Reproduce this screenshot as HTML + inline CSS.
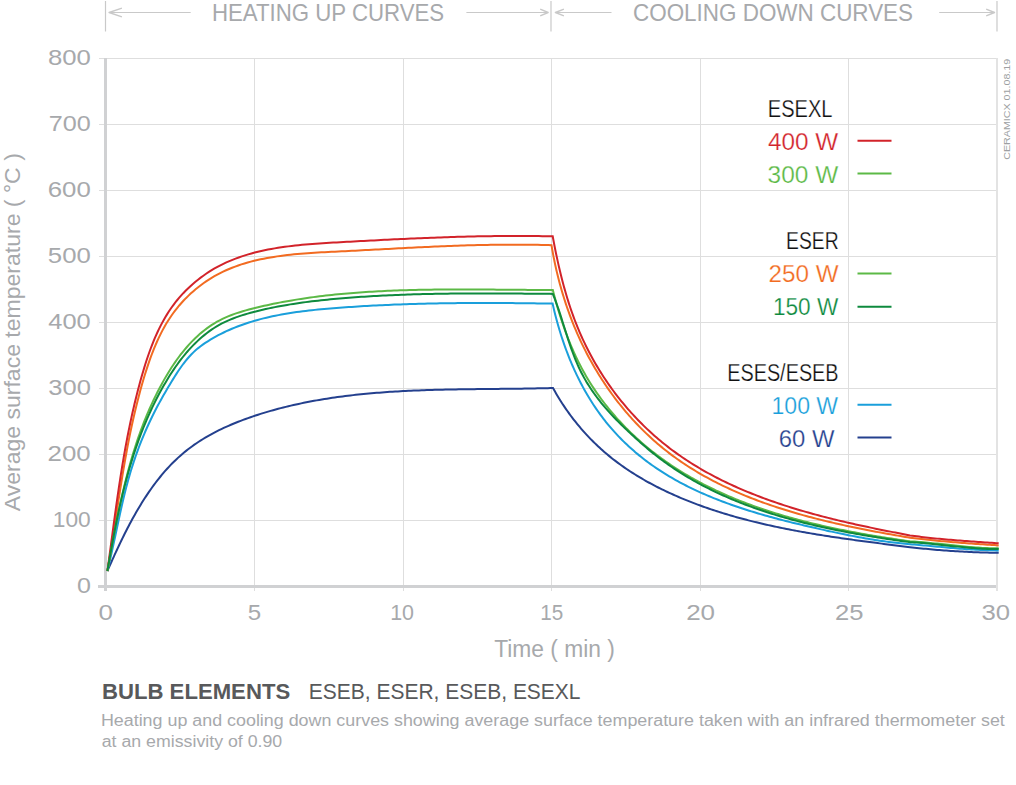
<!DOCTYPE html>
<html><head><meta charset="utf-8"><style>
html,body{margin:0;padding:0;background:#fff;width:1016px;height:785px;overflow:hidden;position:relative;font-family:"Liberation Sans",sans-serif;}
</style></head><body>
<svg width="1016" height="785" viewBox="0 0 1016 785" style="position:absolute;left:0;top:0">
<line x1="99" y1="520.5" x2="997" y2="520.5" stroke="#dedede" stroke-width="1"/>
<line x1="99" y1="454.5" x2="997" y2="454.5" stroke="#dedede" stroke-width="1"/>
<line x1="99" y1="388.5" x2="997" y2="388.5" stroke="#dedede" stroke-width="1"/>
<line x1="99" y1="322.5" x2="997" y2="322.5" stroke="#dedede" stroke-width="1"/>
<line x1="99" y1="256.5" x2="997" y2="256.5" stroke="#dedede" stroke-width="1"/>
<line x1="99" y1="190.5" x2="997" y2="190.5" stroke="#dedede" stroke-width="1"/>
<line x1="99" y1="124.5" x2="997" y2="124.5" stroke="#dedede" stroke-width="1"/>
<line x1="99" y1="58.5" x2="997" y2="58.5" stroke="#dedede" stroke-width="1"/>
<line x1="254.5" y1="58" x2="254.5" y2="591" stroke="#dedede" stroke-width="1"/>
<line x1="403.5" y1="58" x2="403.5" y2="591" stroke="#dedede" stroke-width="1"/>
<line x1="551.5" y1="58" x2="551.5" y2="591" stroke="#dedede" stroke-width="1"/>
<line x1="700.5" y1="58" x2="700.5" y2="591" stroke="#dedede" stroke-width="1"/>
<line x1="848.5" y1="58" x2="848.5" y2="591" stroke="#dedede" stroke-width="1"/>
<line x1="997" y1="58" x2="997" y2="591" stroke="#e3e3e3" stroke-width="2"/>
<line x1="98" y1="586.5" x2="996" y2="586.5" stroke="#d0d1d3" stroke-width="3"/>
<line x1="105.5" y1="58" x2="105.5" y2="591" stroke="#d0d1d3" stroke-width="3"/>
<line x1="105.5" y1="1" x2="105.5" y2="31.5" stroke="#c9c9c9" stroke-width="1.2"/>
<line x1="551.0" y1="1" x2="551.0" y2="31.5" stroke="#c9c9c9" stroke-width="1.2"/>
<line x1="997.0" y1="1" x2="997.0" y2="31.5" stroke="#c9c9c9" stroke-width="1.2"/>
<line x1="109.1" y1="12.5" x2="190.7" y2="12.5" stroke="#c9c9c9" stroke-width="1"/><polyline points="121.9,8.2 109.1,12.5 121.9,16.8" fill="none" stroke="#c9c9c9" stroke-width="1.4" stroke-linejoin="round"/>
<line x1="466.4" y1="12.5" x2="548.1" y2="12.5" stroke="#c9c9c9" stroke-width="1"/><polyline points="540.2,9.2 548.1,12.5 540.2,15.8" fill="none" stroke="#c9c9c9" stroke-width="1.4" stroke-linejoin="round"/>
<line x1="555.4" y1="12.5" x2="611.5" y2="12.5" stroke="#c9c9c9" stroke-width="1"/><polyline points="563.9,9.2 555.4,12.5 563.9,15.8" fill="none" stroke="#c9c9c9" stroke-width="1.4" stroke-linejoin="round"/>
<line x1="939.2" y1="12.5" x2="994.5" y2="12.5" stroke="#c9c9c9" stroke-width="1"/><polyline points="986.2,9.2 994.5,12.5 986.2,15.8" fill="none" stroke="#c9c9c9" stroke-width="1.4" stroke-linejoin="round"/>
<text x="0" y="0" font-family="Liberation Sans" font-size="21.6" fill="#a7a9ac" text-anchor="middle" textLength="358" lengthAdjust="spacingAndGlyphs" transform="translate(20.3,332.2) rotate(-90)">Average surface temperature ( °C )</text>
<text x="0" y="0" font-family="Liberation Sans" font-size="9.6" fill="#9d9fa2" text-anchor="middle" textLength="101" lengthAdjust="spacingAndGlyphs" transform="translate(1010.4,109.3) rotate(-90)">CERAMICX 01.08.19</text>
<line x1="857.5" y1="140.7" x2="891.5" y2="140.7" stroke="#d2232a" stroke-width="2"/>
<line x1="857.5" y1="173.4" x2="891.5" y2="173.4" stroke="#5cb946" stroke-width="2"/>
<line x1="857.5" y1="273.5" x2="891.5" y2="273.5" stroke="#5cb946" stroke-width="2"/>
<line x1="857.5" y1="306.7" x2="891.5" y2="306.7" stroke="#0e8a3e" stroke-width="2"/>
<line x1="857.5" y1="404.7" x2="891.5" y2="404.7" stroke="#1a9fdb" stroke-width="2"/>
<line x1="857.5" y1="437.5" x2="891.5" y2="437.5" stroke="#24408e" stroke-width="2"/>
<text x="211.88" y="20.80" font-family="Liberation Sans" font-size="23.20" fill="#a7a9ac" textLength="232.32" lengthAdjust="spacingAndGlyphs">HEATING UP CURVES</text>
<text x="633.02" y="20.80" font-family="Liberation Sans" font-size="23.20" fill="#a7a9ac" textLength="280.02" lengthAdjust="spacingAndGlyphs">COOLING DOWN CURVES</text>
<text x="494.18" y="657.10" font-family="Liberation Sans" font-size="23.00" fill="#a7a9ac" textLength="120.71" lengthAdjust="spacingAndGlyphs">Time ( min )</text>
<text x="767.86" y="117.10" font-family="Liberation Sans" font-size="24.40" fill="#111111" textLength="64.60" lengthAdjust="spacingAndGlyphs" stroke="#fff" stroke-width="0.25">ESEXL</text>
<text x="768.03" y="150.00" font-family="Liberation Sans" font-size="23.90" fill="#d2232a" textLength="70.30" lengthAdjust="spacingAndGlyphs" stroke="#fff" stroke-width="0.25">400 W</text>
<text x="767.64" y="183.00" font-family="Liberation Sans" font-size="23.90" fill="#5cb946" textLength="70.66" lengthAdjust="spacingAndGlyphs" stroke="#fff" stroke-width="0.25">300 W</text>
<text x="786.08" y="249.10" font-family="Liberation Sans" font-size="24.40" fill="#111111" textLength="52.56" lengthAdjust="spacingAndGlyphs" stroke="#fff" stroke-width="0.25">ESER</text>
<text x="768.48" y="282.00" font-family="Liberation Sans" font-size="23.90" fill="#f26b21" textLength="70.13" lengthAdjust="spacingAndGlyphs" stroke="#fff" stroke-width="0.25">250 W</text>
<text x="772.96" y="315.00" font-family="Liberation Sans" font-size="23.90" fill="#0e8a3e" textLength="65.32" lengthAdjust="spacingAndGlyphs" stroke="#fff" stroke-width="0.25">150 W</text>
<text x="727.17" y="381.10" font-family="Liberation Sans" font-size="24.40" fill="#111111" textLength="111.45" lengthAdjust="spacingAndGlyphs" stroke="#fff" stroke-width="0.25">ESES/ESEB</text>
<text x="771.51" y="414.00" font-family="Liberation Sans" font-size="23.90" fill="#1a9fdb" textLength="66.62" lengthAdjust="spacingAndGlyphs" stroke="#fff" stroke-width="0.25">100 W</text>
<text x="778.71" y="447.00" font-family="Liberation Sans" font-size="23.90" fill="#24408e" textLength="55.71" lengthAdjust="spacingAndGlyphs" stroke="#fff" stroke-width="0.25">60 W</text>
<text x="101.98" y="698.60" font-family="Liberation Sans" font-size="22.60" fill="#58595b" textLength="188.20" lengthAdjust="spacingAndGlyphs" font-weight="bold">BULB ELEMENTS</text>
<text x="308.77" y="698.60" font-family="Liberation Sans" font-size="22.60" fill="#58595b" textLength="271.77" lengthAdjust="spacingAndGlyphs">ESEB, ESER, ESEB, ESEXL</text>
<text x="100.92" y="726.30" font-family="Liberation Sans" font-size="17.30" fill="#a7a9ac" textLength="903.94" lengthAdjust="spacingAndGlyphs">Heating up and cooling down curves showing average surface temperature taken with an infrared thermometer set</text>
<text x="101.74" y="746.90" font-family="Liberation Sans" font-size="17.30" fill="#a7a9ac" textLength="180.45" lengthAdjust="spacingAndGlyphs">at an emissivity of 0.90</text>
<text x="47.97" y="64.70" font-family="Liberation Sans" font-size="22.00" fill="#a7a9ac" textLength="42.94" lengthAdjust="spacingAndGlyphs">800</text>
<text x="48.68" y="130.70" font-family="Liberation Sans" font-size="22.00" fill="#a7a9ac" textLength="42.07" lengthAdjust="spacingAndGlyphs">700</text>
<text x="47.69" y="196.70" font-family="Liberation Sans" font-size="22.00" fill="#a7a9ac" textLength="43.06" lengthAdjust="spacingAndGlyphs">600</text>
<text x="47.86" y="262.70" font-family="Liberation Sans" font-size="22.00" fill="#a7a9ac" textLength="42.98" lengthAdjust="spacingAndGlyphs">500</text>
<text x="48.33" y="328.70" font-family="Liberation Sans" font-size="22.00" fill="#a7a9ac" textLength="42.40" lengthAdjust="spacingAndGlyphs">400</text>
<text x="48.27" y="394.70" font-family="Liberation Sans" font-size="22.00" fill="#a7a9ac" textLength="42.56" lengthAdjust="spacingAndGlyphs">300</text>
<text x="47.59" y="460.70" font-family="Liberation Sans" font-size="22.00" fill="#a7a9ac" textLength="43.19" lengthAdjust="spacingAndGlyphs">200</text>
<text x="52.75" y="526.70" font-family="Liberation Sans" font-size="22.00" fill="#a7a9ac" textLength="37.96" lengthAdjust="spacingAndGlyphs">100</text>
<text x="76.91" y="592.70" font-family="Liberation Sans" font-size="22.00" fill="#a7a9ac" textLength="13.96" lengthAdjust="spacingAndGlyphs">0</text>
<text x="98.46" y="620.30" font-family="Liberation Sans" font-size="22.00" fill="#a7a9ac" textLength="14.49" lengthAdjust="spacingAndGlyphs">0</text>
<text x="247.83" y="620.30" font-family="Liberation Sans" font-size="22.00" fill="#a7a9ac" textLength="13.41" lengthAdjust="spacingAndGlyphs">5</text>
<text x="390.17" y="620.30" font-family="Liberation Sans" font-size="22.00" fill="#a7a9ac" textLength="23.83" lengthAdjust="spacingAndGlyphs">10</text>
<text x="540.15" y="620.30" font-family="Liberation Sans" font-size="22.00" fill="#a7a9ac" textLength="23.03" lengthAdjust="spacingAndGlyphs">15</text>
<text x="686.16" y="620.30" font-family="Liberation Sans" font-size="22.00" fill="#a7a9ac" textLength="28.95" lengthAdjust="spacingAndGlyphs">20</text>
<text x="834.97" y="620.30" font-family="Liberation Sans" font-size="22.00" fill="#a7a9ac" textLength="28.49" lengthAdjust="spacingAndGlyphs">25</text>
<text x="981.40" y="620.30" font-family="Liberation Sans" font-size="22.00" fill="#a7a9ac" textLength="28.59" lengthAdjust="spacingAndGlyphs">30</text>
<path d="M107.40,571.00 L108.41,568.70 L109.43,566.39 L110.46,564.07 L111.50,561.74 L112.55,559.40 L113.62,557.05 L114.69,554.69 L115.77,552.33 L116.87,549.96 L117.98,547.59 L119.10,545.21 L120.23,542.84 L121.38,540.45 L122.54,538.07 L123.72,535.69 L124.91,533.31 L126.11,530.93 L127.33,528.55 L128.56,526.18 L129.81,523.81 L131.08,521.45 L132.36,519.09 L133.66,516.74 L134.97,514.40 L136.31,512.07 L137.66,509.75 L139.03,507.44 L140.41,505.14 L141.82,502.85 L143.24,500.58 L144.69,498.32 L146.15,496.08 L147.64,493.86 L149.14,491.65 L150.67,489.46 L152.21,487.28 L153.78,485.13 L155.37,483.00 L156.98,480.89 L158.62,478.81 L160.28,476.75 L161.96,474.71 L163.66,472.70 L165.39,470.71 L167.14,468.76 L168.92,466.83 L170.72,464.93 L172.55,463.06 L174.40,461.22 L176.28,459.41 L178.18,457.64 L180.12,455.90 L182.08,454.19 L184.06,452.52 L186.07,450.88 L188.11,449.28 L190.18,447.72 L192.27,446.19 L194.38,444.69 L196.52,443.22 L198.68,441.79 L200.86,440.38 L203.06,439.01 L205.29,437.67 L207.53,436.36 L209.79,435.08 L212.07,433.82 L214.37,432.60 L216.69,431.40 L219.02,430.23 L221.37,429.08 L223.73,427.97 L226.11,426.87 L228.51,425.80 L230.91,424.76 L233.33,423.74 L235.76,422.74 L238.20,421.77 L240.65,420.82 L243.11,419.88 L245.57,418.97 L248.05,418.08 L250.54,417.21 L253.03,416.36 L255.52,415.53 L258.03,414.72 L260.53,413.92 L263.04,413.14 L265.56,412.38 L268.08,411.63 L270.60,410.90 L273.13,410.19 L275.66,409.49 L278.19,408.81 L280.73,408.14 L283.28,407.49 L285.82,406.86 L288.37,406.24 L290.92,405.63 L293.48,405.04 L296.04,404.47 L298.60,403.91 L301.17,403.36 L303.74,402.83 L306.31,402.31 L308.88,401.81 L311.46,401.31 L314.04,400.84 L316.63,400.37 L319.21,399.92 L321.80,399.48 L324.40,399.05 L326.99,398.64 L329.59,398.23 L332.19,397.84 L334.79,397.46 L337.40,397.10 L340.00,396.74 L342.61,396.39 L345.22,396.06 L347.84,395.74 L350.45,395.42 L353.07,395.12 L355.69,394.83 L358.31,394.55 L360.93,394.27 L363.56,394.01 L366.18,393.76 L368.81,393.51 L371.44,393.28 L374.07,393.05 L376.70,392.84 L379.34,392.63 L381.97,392.43 L384.61,392.23 L387.24,392.05 L389.88,391.87 L392.52,391.70 L395.16,391.54 L397.80,391.38 L400.45,391.24 L403.09,391.09 L405.73,390.96 L408.38,390.83 L411.02,390.71 L413.67,390.59 L416.31,390.48 L418.96,390.38 L421.60,390.28 L424.25,390.18 L426.90,390.10 L429.55,390.01 L432.19,389.93 L434.84,389.86 L437.49,389.79 L440.14,389.72 L442.78,389.66 L445.43,389.60 L448.08,389.54 L450.72,389.49 L453.37,389.44 L456.01,389.39 L458.66,389.35 L461.30,389.31 L463.95,389.27 L466.59,389.23 L469.23,389.20 L471.87,389.17 L474.51,389.13 L477.15,389.10 L479.79,389.08 L482.43,389.05 L485.07,389.02 L487.70,389.00 L490.33,388.97 L492.97,388.95 L495.60,388.92 L498.23,388.90 L500.86,388.87 L503.48,388.84 L506.11,388.82 L508.73,388.79 L511.35,388.76 L513.97,388.73 L516.59,388.70 L519.20,388.67 L521.82,388.63 L524.43,388.59 L527.04,388.55 L529.64,388.51 L532.25,388.47 L534.85,388.42 L537.45,388.37 L540.05,388.32 L542.65,388.26 L545.24,388.20 L547.83,388.14 L550.41,388.07 L553.00,388.00 L554.00,389.81 L555.02,391.61 L556.05,393.41 L557.10,395.19 L558.16,396.96 L559.24,398.72 L560.33,400.47 L561.43,402.21 L562.55,403.95 L563.69,405.66 L564.84,407.37 L566.00,409.07 L567.18,410.76 L568.37,412.43 L569.57,414.10 L570.79,415.75 L572.03,417.39 L573.27,419.02 L574.53,420.64 L575.81,422.24 L577.10,423.83 L578.40,425.41 L579.71,426.98 L581.04,428.54 L582.38,430.08 L583.73,431.62 L585.10,433.13 L586.48,434.64 L587.87,436.13 L589.28,437.61 L590.69,439.08 L592.13,440.53 L593.57,441.97 L595.02,443.40 L596.49,444.81 L597.97,446.21 L599.46,447.60 L600.97,448.97 L602.48,450.32 L604.01,451.67 L605.55,452.99 L607.10,454.31 L608.67,455.61 L610.24,456.89 L611.83,458.16 L613.42,459.42 L615.03,460.66 L616.65,461.89 L618.28,463.11 L619.92,464.31 L621.57,465.50 L623.23,466.67 L624.90,467.83 L626.58,468.98 L628.27,470.12 L629.96,471.24 L631.67,472.35 L633.39,473.44 L635.11,474.52 L636.84,475.59 L638.59,476.65 L640.34,477.70 L642.09,478.73 L643.86,479.75 L645.63,480.76 L647.41,481.76 L649.20,482.75 L651.00,483.72 L652.80,484.68 L654.61,485.63 L656.42,486.57 L658.24,487.50 L660.07,488.42 L661.91,489.32 L663.75,490.22 L665.59,491.10 L667.44,491.98 L669.30,492.84 L671.16,493.69 L673.03,494.53 L674.90,495.37 L676.77,496.19 L678.65,497.00 L680.54,497.80 L682.43,498.59 L684.32,499.38 L686.21,500.15 L688.11,500.91 L690.01,501.67 L691.92,502.41 L693.83,503.15 L695.74,503.87 L697.66,504.59 L699.58,505.30 L701.50,506.00 L703.43,506.69 L705.35,507.37 L707.29,508.04 L709.22,508.71 L711.16,509.36 L713.10,510.01 L715.04,510.65 L716.99,511.29 L718.93,511.91 L720.89,512.52 L722.84,513.13 L724.80,513.73 L726.76,514.33 L728.72,514.91 L730.68,515.49 L732.65,516.06 L734.62,516.62 L736.59,517.17 L738.56,517.72 L740.54,518.26 L742.52,518.80 L744.50,519.32 L746.48,519.84 L748.46,520.36 L750.45,520.86 L752.44,521.36 L754.43,521.86 L756.42,522.34 L758.41,522.82 L760.41,523.30 L762.41,523.77 L764.41,524.23 L766.41,524.68 L768.41,525.14 L770.42,525.58 L772.42,526.02 L774.43,526.45 L776.44,526.88 L778.45,527.30 L780.46,527.72 L782.47,528.13 L784.49,528.54 L786.50,528.94 L788.52,529.33 L790.54,529.72 L792.56,530.11 L794.58,530.49 L796.60,530.87 L798.62,531.24 L800.64,531.61 L802.66,531.97 L804.69,532.33 L806.71,532.69 L808.74,533.04 L810.77,533.38 L812.79,533.73 L814.82,534.07 L816.85,534.40 L818.88,534.73 L820.91,535.06 L822.94,535.38 L824.97,535.70 L827.00,536.02 L829.03,536.34 L831.06,536.65 L833.09,536.95 L835.13,537.26 L837.16,537.56 L839.19,537.86 L841.22,538.16 L843.25,538.45 L845.28,538.74 L847.32,539.03 L849.35,539.31 L851.38,539.60 L853.41,539.88 L855.44,540.16 L857.47,540.44 L859.50,540.71 L861.53,540.98 L863.56,541.26 L865.59,541.53 L867.62,541.79 L869.64,542.06 L871.67,542.33 L873.70,542.59 L875.72,542.85 L877.75,543.11 L879.77,543.37 L881.79,543.63 L883.82,543.89 L885.84,544.15 L887.86,544.40 L889.88,544.66 L891.89,544.92 L893.91,545.17 L895.93,545.42 L897.94,545.68 L899.95,545.93 L901.97,546.19 L903.98,546.44 L905.99,546.69 L907.99,546.95 L910.00,547.20 L912.27,547.46 L914.53,547.70 L916.80,547.95 L919.07,548.19 L921.34,548.42 L923.60,548.64 L925.87,548.86 L928.14,549.08 L930.41,549.29 L932.68,549.49 L934.95,549.68 L937.22,549.88 L939.50,550.06 L941.77,550.24 L944.04,550.41 L946.31,550.58 L948.59,550.74 L950.86,550.90 L953.13,551.04 L955.41,551.19 L957.68,551.33 L959.96,551.46 L962.23,551.58 L964.51,551.70 L966.79,551.82 L969.06,551.93 L971.34,552.03 L973.62,552.13 L975.90,552.22 L978.17,552.30 L980.45,552.38 L982.73,552.45 L985.01,552.52 L987.29,552.58 L989.57,552.64 L991.85,552.69 L994.14,552.73 L996.42,552.77 L998.70,552.80" fill="none" stroke="#24408e" stroke-width="2.0" stroke-linejoin="miter" stroke-linecap="butt"/>
<path d="M107.40,571.00 L108.12,568.08 L108.82,565.15 L109.51,562.21 L110.19,559.26 L110.86,556.30 L111.52,553.34 L112.18,550.37 L112.82,547.39 L113.47,544.40 L114.11,541.41 L114.74,538.42 L115.38,535.43 L116.01,532.43 L116.64,529.43 L117.28,526.42 L117.91,523.42 L118.55,520.42 L119.20,517.42 L119.85,514.42 L120.51,511.42 L121.18,508.42 L121.85,505.43 L122.54,502.44 L123.24,499.46 L123.95,496.49 L124.68,493.52 L125.42,490.56 L126.17,487.60 L126.95,484.66 L127.74,481.72 L128.55,478.79 L129.38,475.88 L130.23,472.97 L131.11,470.08 L132.00,467.19 L132.92,464.32 L133.86,461.45 L134.82,458.59 L135.80,455.74 L136.81,452.91 L137.83,450.08 L138.89,447.25 L139.96,444.44 L141.06,441.64 L142.19,438.84 L143.34,436.05 L144.51,433.27 L145.71,430.49 L146.94,427.73 L148.19,424.97 L149.47,422.21 L150.78,419.47 L152.11,416.73 L153.46,413.99 L154.85,411.26 L156.25,408.54 L157.68,405.83 L159.14,403.12 L160.61,400.43 L162.11,397.73 L163.62,395.05 L165.16,392.38 L166.71,389.71 L168.28,387.05 L169.87,384.40 L171.48,381.75 L173.10,379.12 L174.74,376.50 L176.40,373.89 L178.09,371.31 L179.81,368.76 L181.58,366.25 L183.39,363.78 L185.26,361.36 L187.18,359.01 L189.17,356.72 L191.24,354.50 L193.38,352.36 L195.60,350.31 L197.91,348.35 L200.29,346.47 L202.75,344.67 L205.25,342.95 L207.81,341.29 L210.39,339.69 L213.01,338.15 L215.64,336.66 L218.30,335.22 L220.99,333.83 L223.69,332.50 L226.42,331.21 L229.16,329.97 L231.93,328.77 L234.71,327.62 L237.52,326.52 L240.34,325.46 L243.18,324.44 L246.03,323.46 L248.90,322.52 L251.79,321.63 L254.69,320.77 L257.61,319.94 L260.54,319.15 L263.48,318.40 L266.44,317.68 L269.41,317.00 L272.38,316.34 L275.37,315.72 L278.37,315.12 L281.38,314.55 L284.40,314.01 L287.43,313.50 L290.46,313.01 L293.50,312.55 L296.55,312.11 L299.60,311.69 L302.66,311.29 L305.72,310.91 L308.79,310.55 L311.85,310.21 L314.93,309.88 L318.00,309.57 L321.08,309.27 L324.15,308.99 L327.23,308.72 L330.31,308.46 L333.38,308.21 L336.45,307.97 L339.53,307.74 L342.59,307.51 L345.66,307.29 L348.72,307.08 L351.78,306.88 L354.84,306.68 L357.89,306.48 L360.95,306.30 L364.00,306.11 L367.05,305.94 L370.09,305.77 L373.14,305.61 L376.18,305.45 L379.22,305.30 L382.26,305.15 L385.29,305.01 L388.33,304.88 L391.36,304.75 L394.39,304.62 L397.42,304.50 L400.45,304.39 L403.48,304.28 L406.51,304.18 L409.54,304.08 L412.56,303.98 L415.59,303.90 L418.61,303.81 L421.64,303.73 L424.66,303.66 L427.69,303.59 L430.71,303.52 L433.73,303.46 L436.76,303.40 L439.78,303.35 L442.80,303.30 L445.83,303.25 L448.85,303.21 L451.88,303.17 L454.90,303.14 L457.93,303.11 L460.95,303.08 L463.98,303.06 L467.01,303.04 L470.04,303.02 L473.07,303.01 L476.10,303.00 L479.14,303.00 L482.17,302.99 L485.21,302.99 L488.25,303.00 L491.29,303.00 L494.33,303.01 L497.37,303.02 L500.42,303.04 L503.47,303.05 L506.52,303.07 L509.57,303.09 L512.62,303.12 L515.68,303.14 L518.74,303.17 L521.80,303.20 L524.87,303.23 L527.94,303.27 L531.01,303.30 L534.08,303.34 L537.16,303.38 L540.24,303.42 L543.33,303.46 L546.41,303.51 L549.50,303.55 L552.60,303.60 L553.11,305.87 L553.64,308.14 L554.19,310.41 L554.74,312.67 L555.31,314.94 L555.90,317.20 L556.50,319.46 L557.11,321.72 L557.74,323.98 L558.39,326.23 L559.05,328.48 L559.72,330.73 L560.41,332.97 L561.11,335.21 L561.83,337.45 L562.57,339.68 L563.32,341.90 L564.09,344.12 L564.87,346.34 L565.67,348.55 L566.48,350.75 L567.32,352.95 L568.16,355.14 L569.03,357.33 L569.91,359.51 L570.81,361.68 L571.72,363.84 L572.66,366.00 L573.61,368.15 L574.57,370.29 L575.56,372.42 L576.56,374.55 L577.58,376.66 L578.62,378.77 L579.67,380.87 L580.74,382.96 L581.84,385.03 L582.95,387.10 L584.08,389.16 L585.22,391.21 L586.39,393.24 L587.57,395.27 L588.78,397.28 L590.00,399.28 L591.24,401.27 L592.50,403.25 L593.78,405.21 L595.08,407.16 L596.40,409.10 L597.74,411.02 L599.10,412.93 L600.48,414.83 L601.88,416.71 L603.30,418.57 L604.74,420.42 L606.20,422.26 L607.67,424.08 L609.17,425.88 L610.69,427.67 L612.23,429.44 L613.78,431.19 L615.36,432.93 L616.95,434.65 L618.56,436.35 L620.19,438.04 L621.83,439.70 L623.49,441.35 L625.17,442.99 L626.87,444.60 L628.57,446.20 L630.30,447.77 L632.04,449.33 L633.79,450.87 L635.56,452.39 L637.35,453.89 L639.14,455.37 L640.96,456.84 L642.78,458.28 L644.62,459.70 L646.47,461.11 L648.33,462.49 L650.21,463.86 L652.09,465.21 L653.99,466.54 L655.91,467.85 L657.83,469.14 L659.77,470.42 L661.71,471.68 L663.67,472.92 L665.64,474.15 L667.62,475.35 L669.61,476.55 L671.62,477.72 L673.63,478.88 L675.65,480.02 L677.68,481.15 L679.73,482.26 L681.78,483.36 L683.84,484.44 L685.91,485.50 L687.99,486.55 L690.08,487.59 L692.18,488.61 L694.28,489.61 L696.40,490.61 L698.52,491.58 L700.65,492.55 L702.79,493.50 L704.93,494.44 L707.09,495.36 L709.25,496.27 L711.41,497.17 L713.59,498.06 L715.77,498.93 L717.96,499.79 L720.15,500.64 L722.35,501.48 L724.56,502.31 L726.77,503.12 L728.99,503.93 L731.21,504.72 L733.44,505.50 L735.67,506.27 L737.91,507.03 L740.15,507.78 L742.40,508.52 L744.65,509.25 L746.90,509.98 L749.16,510.69 L751.42,511.39 L753.69,512.08 L755.96,512.77 L758.23,513.44 L760.51,514.11 L762.79,514.77 L765.07,515.42 L767.35,516.06 L769.64,516.70 L771.93,517.33 L774.22,517.95 L776.51,518.56 L778.80,519.17 L781.09,519.77 L783.39,520.36 L785.69,520.95 L787.98,521.53 L790.28,522.10 L792.58,522.67 L794.88,523.23 L797.17,523.79 L799.47,524.34 L801.77,524.89 L804.07,525.44 L806.36,525.97 L808.66,526.51 L810.95,527.04 L813.25,527.57 L815.54,528.09 L817.83,528.61 L820.12,529.12 L822.40,529.63 L824.69,530.14 L826.97,530.65 L829.25,531.15 L831.53,531.64 L833.81,532.14 L836.09,532.62 L838.37,533.11 L840.65,533.58 L842.92,534.05 L845.20,534.52 L847.48,534.98 L849.76,535.43 L852.04,535.88 L854.32,536.32 L856.60,536.76 L858.89,537.18 L861.18,537.60 L863.46,538.01 L865.75,538.41 L868.05,538.81 L870.34,539.19 L872.64,539.57 L874.94,539.94 L877.25,540.30 L879.56,540.65 L881.87,540.99 L884.19,541.32 L886.51,541.63 L888.83,541.94 L891.16,542.24 L893.50,542.53 L895.84,542.80 L898.18,543.07 L900.53,543.32 L902.89,543.56 L905.25,543.78 L907.62,544.00 L910.00,544.20 L912.27,544.39 L914.54,544.58 L916.82,544.78 L919.09,544.98 L921.36,545.18 L923.63,545.39 L925.90,545.59 L928.17,545.80 L930.44,546.01 L932.71,546.22 L934.98,546.44 L937.25,546.65 L939.52,546.86 L941.80,547.06 L944.07,547.27 L946.34,547.48 L948.61,547.68 L950.88,547.88 L953.15,548.07 L955.42,548.26 L957.70,548.45 L959.97,548.63 L962.24,548.80 L964.52,548.97 L966.79,549.13 L969.07,549.28 L971.34,549.43 L973.62,549.57 L975.89,549.70 L978.17,549.82 L980.45,549.93 L982.73,550.03 L985.01,550.12 L987.29,550.20 L989.57,550.26 L991.85,550.32 L994.13,550.36 L996.42,550.39 L998.70,550.40" fill="none" stroke="#1a9fdb" stroke-width="2.0" stroke-linejoin="miter" stroke-linecap="butt"/>
<path d="M107.40,571.00 L107.97,567.69 L108.52,564.39 L109.07,561.09 L109.62,557.78 L110.15,554.48 L110.68,551.18 L111.21,547.88 L111.73,544.57 L112.25,541.27 L112.76,537.98 L113.27,534.68 L113.78,531.38 L114.28,528.08 L114.78,524.78 L115.28,521.49 L115.78,518.19 L116.28,514.90 L116.79,511.61 L117.29,508.31 L117.79,505.02 L118.30,501.73 L118.80,498.44 L119.31,495.15 L119.83,491.86 L120.34,488.57 L120.87,485.29 L121.39,482.00 L121.93,478.72 L122.47,475.43 L123.01,472.15 L123.57,468.86 L124.13,465.58 L124.70,462.30 L125.27,459.02 L125.86,455.74 L126.46,452.46 L127.07,449.19 L127.68,445.91 L128.31,442.63 L128.95,439.36 L129.61,436.09 L130.27,432.81 L130.95,429.54 L131.65,426.27 L132.36,423.00 L133.08,419.73 L133.82,416.46 L134.57,413.20 L135.35,409.93 L136.14,406.67 L136.94,403.40 L137.77,400.14 L138.61,396.88 L139.47,393.62 L140.36,390.36 L141.26,387.10 L142.18,383.84 L143.13,380.58 L144.09,377.33 L145.08,374.08 L146.10,370.83 L147.14,367.59 L148.22,364.36 L149.32,361.14 L150.46,357.94 L151.64,354.75 L152.86,351.59 L154.11,348.44 L155.41,345.32 L156.75,342.23 L158.14,339.16 L159.58,336.13 L161.07,333.13 L162.62,330.16 L164.22,327.23 L165.87,324.35 L167.59,321.50 L169.37,318.71 L171.21,315.95 L173.12,313.25 L175.10,310.60 L177.14,308.01 L179.24,305.47 L181.41,302.98 L183.64,300.55 L185.92,298.18 L188.27,295.86 L190.66,293.61 L193.12,291.42 L195.62,289.29 L198.17,287.22 L200.78,285.22 L203.42,283.28 L206.12,281.41 L208.86,279.61 L211.63,277.88 L214.45,276.21 L217.31,274.62 L220.20,273.10 L223.13,271.66 L226.09,270.28 L229.09,268.98 L232.11,267.74 L235.17,266.57 L238.25,265.47 L241.36,264.42 L244.50,263.43 L247.67,262.51 L250.85,261.63 L254.06,260.81 L257.30,260.04 L260.55,259.32 L263.82,258.65 L267.11,258.02 L270.42,257.43 L273.75,256.89 L277.09,256.38 L280.44,255.91 L283.80,255.47 L287.18,255.07 L290.57,254.70 L293.96,254.35 L297.36,254.03 L300.77,253.74 L304.19,253.47 L307.61,253.21 L311.03,252.98 L314.46,252.76 L317.88,252.56 L321.31,252.36 L324.73,252.18 L328.15,252.00 L331.57,251.83 L334.98,251.67 L338.38,251.50 L341.78,251.33 L345.17,251.16 L348.55,250.99 L351.93,250.82 L355.29,250.65 L358.65,250.47 L362.01,250.30 L365.35,250.12 L368.69,249.95 L372.03,249.77 L375.36,249.59 L378.68,249.41 L382.00,249.24 L385.32,249.06 L388.63,248.88 L391.93,248.71 L395.24,248.53 L398.54,248.36 L401.83,248.19 L405.13,248.02 L408.42,247.85 L411.70,247.68 L414.99,247.52 L418.27,247.36 L421.56,247.20 L424.84,247.04 L428.12,246.89 L431.40,246.74 L434.68,246.59 L437.96,246.45 L441.24,246.31 L444.52,246.18 L447.80,246.05 L451.08,245.92 L454.37,245.80 L457.65,245.68 L460.94,245.57 L464.23,245.46 L467.52,245.36 L470.82,245.27 L474.11,245.18 L477.42,245.09 L480.72,245.02 L484.03,244.95 L487.34,244.88 L490.66,244.83 L493.98,244.78 L497.31,244.73 L500.65,244.70 L503.99,244.67 L507.33,244.65 L510.68,244.64 L514.04,244.63 L517.41,244.64 L520.78,244.65 L524.16,244.68 L527.55,244.71 L530.94,244.75 L534.35,244.80 L537.76,244.86 L541.18,244.93 L544.61,245.01 L548.05,245.10 L551.50,245.20 L551.92,247.67 L552.35,250.15 L552.79,252.62 L553.25,255.09 L553.73,257.57 L554.23,260.04 L554.74,262.51 L555.26,264.98 L555.81,267.44 L556.36,269.91 L556.94,272.37 L557.53,274.83 L558.14,277.29 L558.77,279.74 L559.41,282.20 L560.07,284.64 L560.74,287.09 L561.43,289.53 L562.14,291.97 L562.87,294.40 L563.61,296.83 L564.37,299.25 L565.15,301.67 L565.94,304.08 L566.75,306.49 L567.58,308.89 L568.43,311.29 L569.29,313.68 L570.17,316.06 L571.07,318.44 L571.98,320.81 L572.92,323.17 L573.87,325.53 L574.83,327.88 L575.82,330.22 L576.82,332.56 L577.84,334.88 L578.88,337.20 L579.94,339.51 L581.01,341.81 L582.10,344.10 L583.21,346.38 L584.34,348.66 L585.48,350.92 L586.64,353.17 L587.82,355.42 L589.01,357.66 L590.22,359.88 L591.45,362.10 L592.70,364.30 L593.96,366.50 L595.24,368.68 L596.53,370.85 L597.84,373.01 L599.17,375.17 L600.52,377.31 L601.88,379.43 L603.26,381.55 L604.65,383.65 L606.06,385.75 L607.49,387.83 L608.93,389.89 L610.39,391.95 L611.87,393.99 L613.36,396.02 L614.87,398.04 L616.39,400.04 L617.93,402.03 L619.48,404.00 L621.05,405.97 L622.64,407.91 L624.24,409.85 L625.86,411.77 L627.49,413.67 L629.14,415.56 L630.80,417.44 L632.48,419.30 L634.17,421.14 L635.88,422.97 L637.61,424.79 L639.35,426.59 L641.10,428.37 L642.87,430.14 L644.65,431.89 L646.45,433.62 L648.26,435.34 L650.09,437.04 L651.94,438.72 L653.79,440.39 L655.66,442.04 L657.55,443.67 L659.45,445.29 L661.37,446.88 L663.30,448.46 L665.24,450.02 L667.20,451.56 L669.17,453.09 L671.15,454.59 L673.15,456.08 L675.17,457.55 L677.19,459.00 L679.23,460.43 L681.28,461.84 L683.35,463.24 L685.43,464.62 L687.52,465.98 L689.62,467.33 L691.73,468.66 L693.86,469.97 L696.00,471.26 L698.15,472.54 L700.31,473.80 L702.48,475.05 L704.67,476.28 L706.86,477.49 L709.06,478.69 L711.28,479.87 L713.50,481.04 L715.74,482.19 L717.98,483.32 L720.24,484.44 L722.50,485.55 L724.77,486.64 L727.05,487.72 L729.34,488.78 L731.64,489.83 L733.95,490.86 L736.27,491.88 L738.59,492.88 L740.92,493.88 L743.26,494.86 L745.61,495.82 L747.96,496.77 L750.33,497.71 L752.69,498.64 L755.07,499.55 L757.45,500.45 L759.84,501.34 L762.23,502.21 L764.63,503.07 L767.04,503.92 L769.45,504.76 L771.87,505.59 L774.29,506.41 L776.72,507.21 L779.15,508.00 L781.59,508.78 L784.03,509.55 L786.47,510.31 L788.92,511.06 L791.37,511.80 L793.83,512.53 L796.29,513.25 L798.76,513.95 L801.22,514.65 L803.69,515.34 L806.17,516.01 L808.64,516.68 L811.12,517.34 L813.60,517.99 L816.08,518.63 L818.57,519.26 L821.05,519.89 L823.54,520.50 L826.03,521.11 L828.51,521.70 L831.00,522.29 L833.50,522.87 L835.99,523.45 L838.48,524.01 L840.97,524.57 L843.46,525.12 L845.95,525.66 L848.44,526.20 L850.93,526.73 L853.42,527.25 L855.91,527.76 L858.40,528.27 L860.88,528.77 L863.37,529.27 L865.85,529.76 L868.33,530.24 L870.81,530.72 L873.28,531.19 L875.75,531.66 L878.22,532.12 L880.69,532.58 L883.15,533.03 L885.62,533.48 L888.07,533.92 L890.53,534.35 L892.98,534.79 L895.42,535.21 L897.86,535.64 L900.30,536.06 L902.73,536.47 L905.16,536.89 L907.58,537.29 L910.00,537.70 L912.27,537.99 L914.53,538.27 L916.80,538.54 L919.07,538.81 L921.34,539.07 L923.60,539.32 L925.87,539.57 L928.14,539.81 L930.42,540.05 L932.69,540.28 L934.96,540.51 L937.23,540.74 L939.50,540.95 L941.78,541.17 L944.05,541.37 L946.32,541.58 L948.60,541.78 L950.87,541.97 L953.15,542.17 L955.42,542.35 L957.70,542.54 L959.98,542.72 L962.25,542.90 L964.53,543.07 L966.81,543.24 L969.08,543.41 L971.36,543.58 L973.64,543.74 L975.92,543.90 L978.20,544.06 L980.47,544.21 L982.75,544.37 L985.03,544.52 L987.31,544.67 L989.59,544.82 L991.86,544.97 L994.14,545.11 L996.42,545.26 L998.70,545.40" fill="none" stroke="#f26b21" stroke-width="2.0" stroke-linejoin="miter" stroke-linecap="butt"/>
<path d="M107.40,571.00 L107.86,567.63 L108.32,564.26 L108.78,560.89 L109.24,557.53 L109.69,554.16 L110.14,550.80 L110.59,547.44 L111.04,544.08 L111.49,540.73 L111.94,537.37 L112.39,534.02 L112.84,530.67 L113.29,527.32 L113.74,523.97 L114.19,520.62 L114.65,517.27 L115.11,513.93 L115.57,510.59 L116.04,507.24 L116.50,503.90 L116.98,500.56 L117.46,497.22 L117.94,493.89 L118.43,490.55 L118.93,487.21 L119.43,483.88 L119.94,480.55 L120.45,477.22 L120.98,473.88 L121.51,470.55 L122.05,467.22 L122.60,463.90 L123.16,460.57 L123.73,457.24 L124.30,453.92 L124.89,450.59 L125.49,447.27 L126.11,443.94 L126.73,440.62 L127.36,437.29 L128.01,433.97 L128.67,430.65 L129.35,427.33 L130.04,424.01 L130.74,420.69 L131.45,417.37 L132.19,414.05 L132.93,410.73 L133.70,407.41 L134.48,404.09 L135.28,400.77 L136.09,397.45 L136.92,394.13 L137.77,390.81 L138.64,387.49 L139.52,384.18 L140.43,380.86 L141.35,377.54 L142.30,374.22 L143.27,370.91 L144.27,367.60 L145.29,364.30 L146.34,361.01 L147.42,357.73 L148.54,354.47 L149.69,351.22 L150.88,348.00 L152.11,344.79 L153.38,341.61 L154.69,338.45 L156.05,335.32 L157.46,332.22 L158.92,329.16 L160.43,326.13 L161.99,323.13 L163.61,320.17 L165.29,317.26 L167.03,314.38 L168.83,311.55 L170.69,308.77 L172.62,306.04 L174.62,303.36 L176.69,300.74 L178.82,298.17 L181.02,295.65 L183.28,293.19 L185.60,290.79 L187.97,288.45 L190.41,286.17 L192.89,283.95 L195.44,281.79 L198.03,279.69 L200.67,277.66 L203.36,275.69 L206.09,273.79 L208.87,271.95 L211.69,270.19 L214.55,268.49 L217.45,266.87 L220.39,265.32 L223.36,263.84 L226.36,262.43 L229.40,261.09 L232.46,259.81 L235.56,258.60 L238.69,257.45 L241.84,256.36 L245.02,255.33 L248.23,254.36 L251.46,253.44 L254.71,252.57 L257.99,251.76 L261.28,250.99 L264.60,250.27 L267.93,249.59 L271.28,248.96 L274.65,248.37 L278.03,247.82 L281.42,247.30 L284.83,246.82 L288.25,246.37 L291.68,245.95 L295.11,245.56 L298.56,245.20 L302.01,244.86 L305.46,244.55 L308.92,244.25 L312.39,243.98 L315.85,243.72 L319.32,243.48 L322.78,243.25 L326.24,243.03 L329.70,242.82 L333.16,242.62 L336.61,242.43 L340.05,242.23 L343.49,242.04 L346.92,241.85 L350.34,241.66 L353.75,241.47 L357.16,241.29 L360.56,241.10 L363.95,240.92 L367.34,240.74 L370.72,240.56 L374.10,240.38 L377.47,240.21 L380.84,240.03 L384.20,239.86 L387.56,239.69 L390.91,239.53 L394.26,239.36 L397.61,239.20 L400.95,239.04 L404.29,238.89 L407.63,238.73 L410.96,238.58 L414.30,238.44 L417.63,238.29 L420.96,238.15 L424.29,238.02 L427.62,237.88 L430.94,237.75 L434.27,237.63 L437.60,237.50 L440.93,237.39 L444.25,237.27 L447.58,237.16 L450.91,237.05 L454.24,236.95 L457.58,236.85 L460.91,236.76 L464.25,236.67 L467.59,236.59 L470.93,236.51 L474.27,236.44 L477.62,236.37 L480.97,236.30 L484.33,236.24 L487.69,236.19 L491.05,236.14 L494.42,236.10 L497.80,236.06 L501.18,236.03 L504.56,236.00 L507.95,235.98 L511.35,235.97 L514.75,235.96 L518.16,235.96 L521.58,235.96 L525.01,235.97 L528.44,235.99 L531.88,236.01 L535.33,236.04 L538.78,236.08 L542.25,236.13 L545.72,236.18 L549.21,236.23 L552.70,236.30 L553.16,238.78 L553.63,241.26 L554.10,243.74 L554.58,246.22 L555.07,248.70 L555.57,251.19 L556.08,253.68 L556.60,256.16 L557.14,258.65 L557.68,261.14 L558.23,263.62 L558.79,266.11 L559.37,268.59 L559.95,271.07 L560.55,273.56 L561.16,276.04 L561.79,278.51 L562.42,280.99 L563.08,283.46 L563.74,285.93 L564.42,288.39 L565.11,290.85 L565.82,293.31 L566.55,295.76 L567.29,298.21 L568.04,300.65 L568.81,303.09 L569.60,305.52 L570.41,307.95 L571.23,310.37 L572.07,312.78 L572.93,315.19 L573.81,317.59 L574.70,319.98 L575.62,322.37 L576.55,324.74 L577.51,327.11 L578.48,329.47 L579.47,331.82 L580.49,334.16 L581.52,336.49 L582.58,338.81 L583.65,341.12 L584.75,343.43 L585.86,345.72 L587.00,348.00 L588.15,350.27 L589.32,352.53 L590.52,354.79 L591.73,357.03 L592.96,359.25 L594.21,361.47 L595.48,363.68 L596.77,365.87 L598.08,368.06 L599.40,370.23 L600.74,372.39 L602.11,374.54 L603.49,376.67 L604.88,378.79 L606.30,380.90 L607.73,383.00 L609.19,385.09 L610.66,387.16 L612.14,389.22 L613.65,391.26 L615.17,393.29 L616.71,395.31 L618.26,397.31 L619.84,399.30 L621.43,401.28 L623.03,403.24 L624.66,405.19 L626.29,407.12 L627.95,409.04 L629.62,410.94 L631.31,412.83 L633.01,414.70 L634.73,416.55 L636.47,418.39 L638.22,420.22 L639.99,422.03 L641.77,423.82 L643.57,425.60 L645.38,427.36 L647.21,429.10 L649.05,430.83 L650.91,432.54 L652.78,434.23 L654.67,435.90 L656.57,437.56 L658.48,439.20 L660.41,440.82 L662.36,442.43 L664.32,444.02 L666.29,445.58 L668.27,447.13 L670.27,448.67 L672.29,450.18 L674.31,451.67 L676.35,453.15 L678.40,454.61 L680.47,456.05 L682.54,457.47 L684.63,458.88 L686.74,460.27 L688.85,461.64 L690.98,463.00 L693.11,464.34 L695.26,465.66 L697.42,466.96 L699.59,468.25 L701.77,469.52 L703.97,470.78 L706.17,472.02 L708.38,473.25 L710.61,474.46 L712.84,475.65 L715.09,476.83 L717.34,477.99 L719.60,479.14 L721.87,480.28 L724.15,481.40 L726.44,482.50 L728.74,483.59 L731.05,484.67 L733.36,485.73 L735.69,486.78 L738.02,487.81 L740.36,488.84 L742.70,489.84 L745.06,490.84 L747.42,491.82 L749.79,492.79 L752.16,493.75 L754.54,494.69 L756.93,495.62 L759.33,496.54 L761.73,497.44 L764.13,498.34 L766.55,499.22 L768.96,500.09 L771.39,500.95 L773.82,501.80 L776.25,502.64 L778.69,503.46 L781.13,504.28 L783.58,505.08 L786.03,505.87 L788.49,506.66 L790.94,507.43 L793.41,508.19 L795.87,508.94 L798.35,509.69 L800.82,510.42 L803.30,511.14 L805.77,511.86 L808.26,512.56 L810.74,513.26 L813.23,513.94 L815.72,514.62 L818.21,515.29 L820.70,515.95 L823.19,516.60 L825.69,517.25 L828.18,517.88 L830.68,518.51 L833.18,519.13 L835.68,519.75 L838.18,520.35 L840.67,520.95 L843.17,521.54 L845.67,522.13 L848.17,522.70 L850.67,523.27 L853.17,523.84 L855.66,524.40 L858.16,524.95 L860.65,525.50 L863.15,526.04 L865.64,526.57 L868.13,527.10 L870.62,527.62 L873.10,528.14 L875.58,528.66 L878.06,529.17 L880.54,529.67 L883.02,530.17 L885.49,530.66 L887.96,531.15 L890.42,531.64 L892.88,532.12 L895.34,532.60 L897.80,533.08 L900.25,533.55 L902.69,534.02 L905.13,534.48 L907.57,534.94 L910.00,535.40 L912.26,535.72 L914.53,536.02 L916.79,536.32 L919.06,536.61 L921.32,536.89 L923.59,537.16 L925.86,537.42 L928.13,537.68 L930.40,537.93 L932.67,538.17 L934.94,538.40 L937.22,538.63 L939.49,538.85 L941.76,539.07 L944.04,539.28 L946.31,539.48 L948.59,539.68 L950.86,539.87 L953.14,540.06 L955.41,540.25 L957.69,540.43 L959.97,540.60 L962.25,540.78 L964.52,540.95 L966.80,541.12 L969.08,541.28 L971.36,541.44 L973.64,541.60 L975.92,541.76 L978.19,541.92 L980.47,542.07 L982.75,542.23 L985.03,542.38 L987.31,542.53 L989.59,542.69 L991.87,542.84 L994.14,542.99 L996.42,543.15 L998.70,543.30" fill="none" stroke="#d2232a" stroke-width="2.0" stroke-linejoin="miter" stroke-linecap="butt"/>
<path d="M107.40,571.00 L107.96,567.92 L108.51,564.84 L109.06,561.77 L109.62,558.69 L110.18,555.61 L110.73,552.54 L111.29,549.47 L111.85,546.39 L112.42,543.32 L112.99,540.26 L113.56,537.19 L114.14,534.12 L114.72,531.06 L115.31,528.00 L115.91,524.94 L116.51,521.89 L117.12,518.84 L117.73,515.79 L118.36,512.74 L118.99,509.70 L119.63,506.66 L120.29,503.62 L120.95,500.58 L121.62,497.55 L122.31,494.53 L123.01,491.51 L123.72,488.49 L124.44,485.47 L125.18,482.46 L125.93,479.46 L126.69,476.46 L127.47,473.46 L128.27,470.47 L129.08,467.48 L129.91,464.50 L130.75,461.52 L131.61,458.55 L132.50,455.59 L133.40,452.63 L134.31,449.68 L135.25,446.73 L136.21,443.79 L137.19,440.85 L138.19,437.92 L139.21,435.00 L140.26,432.08 L141.33,429.17 L142.42,426.27 L143.53,423.38 L144.67,420.49 L145.84,417.61 L147.03,414.73 L148.24,411.87 L149.48,409.01 L150.75,406.16 L152.05,403.32 L153.37,400.48 L154.73,397.66 L156.11,394.84 L157.52,392.03 L158.96,389.23 L160.43,386.44 L161.94,383.66 L163.47,380.89 L165.04,378.13 L166.64,375.40 L168.28,372.69 L169.95,369.99 L171.66,367.33 L173.40,364.69 L175.18,362.08 L177.00,359.51 L178.86,356.97 L180.75,354.47 L182.69,352.01 L184.67,349.60 L186.69,347.23 L188.75,344.91 L190.85,342.64 L193.00,340.42 L195.19,338.26 L197.43,336.15 L199.72,334.11 L202.05,332.13 L204.43,330.22 L206.85,328.37 L209.33,326.60 L211.85,324.90 L214.43,323.28 L217.06,321.73 L219.74,320.27 L222.47,318.89 L225.26,317.59 L228.09,316.37 L230.97,315.23 L233.88,314.15 L236.83,313.14 L239.81,312.18 L242.81,311.27 L245.83,310.41 L248.87,309.58 L251.92,308.79 L254.97,308.02 L258.03,307.27 L261.09,306.54 L264.15,305.84 L267.21,305.16 L270.27,304.49 L273.34,303.85 L276.40,303.22 L279.47,302.62 L282.54,302.03 L285.62,301.47 L288.69,300.92 L291.77,300.39 L294.85,299.87 L297.92,299.38 L301.01,298.90 L304.09,298.43 L307.17,297.98 L310.26,297.55 L313.34,297.13 L316.43,296.73 L319.52,296.34 L322.61,295.97 L325.70,295.61 L328.79,295.27 L331.89,294.93 L334.98,294.61 L338.08,294.30 L341.17,294.01 L344.27,293.72 L347.37,293.45 L350.47,293.19 L353.57,292.94 L356.67,292.70 L359.77,292.47 L362.87,292.25 L365.98,292.05 L369.08,291.85 L372.19,291.66 L375.29,291.48 L378.40,291.31 L381.51,291.15 L384.61,291.00 L387.72,290.85 L390.83,290.72 L393.94,290.59 L397.05,290.48 L400.16,290.36 L403.27,290.26 L406.38,290.17 L409.49,290.08 L412.61,290.00 L415.72,289.92 L418.83,289.85 L421.95,289.79 L425.06,289.74 L428.17,289.69 L431.29,289.64 L434.40,289.60 L437.52,289.57 L440.64,289.54 L443.75,289.52 L446.87,289.50 L449.98,289.48 L453.10,289.47 L456.22,289.46 L459.33,289.46 L462.45,289.46 L465.57,289.46 L468.68,289.47 L471.80,289.48 L474.92,289.49 L478.04,289.50 L481.15,289.52 L484.27,289.54 L487.39,289.56 L490.50,289.58 L493.62,289.60 L496.74,289.63 L499.86,289.65 L502.97,289.68 L506.09,289.70 L509.20,289.73 L512.32,289.76 L515.44,289.78 L518.55,289.81 L521.67,289.83 L524.78,289.86 L527.90,289.88 L531.01,289.90 L534.13,289.92 L537.24,289.94 L540.35,289.96 L543.46,289.97 L546.58,289.98 L549.69,289.99 L552.80,290.00 L553.39,292.28 L553.98,294.56 L554.59,296.84 L555.21,299.11 L555.84,301.39 L556.48,303.66 L557.13,305.93 L557.79,308.20 L558.47,310.46 L559.16,312.73 L559.86,314.99 L560.57,317.24 L561.30,319.49 L562.04,321.74 L562.80,323.98 L563.57,326.22 L564.35,328.45 L565.15,330.67 L565.96,332.90 L566.79,335.11 L567.64,337.32 L568.50,339.52 L569.37,341.71 L570.27,343.90 L571.18,346.08 L572.10,348.25 L573.05,350.42 L574.01,352.57 L574.99,354.72 L575.99,356.86 L577.00,358.98 L578.04,361.10 L579.09,363.21 L580.17,365.31 L581.26,367.40 L582.37,369.48 L583.50,371.54 L584.66,373.60 L585.83,375.64 L587.02,377.67 L588.23,379.69 L589.47,381.70 L590.72,383.70 L591.99,385.69 L593.27,387.66 L594.58,389.62 L595.90,391.57 L597.25,393.51 L598.61,395.43 L599.99,397.35 L601.38,399.25 L602.80,401.14 L604.23,403.01 L605.67,404.87 L607.14,406.72 L608.62,408.56 L610.12,410.38 L611.63,412.19 L613.16,413.99 L614.70,415.77 L616.26,417.54 L617.84,419.30 L619.43,421.04 L621.03,422.77 L622.65,424.49 L624.29,426.19 L625.93,427.88 L627.60,429.55 L629.27,431.21 L630.96,432.86 L632.67,434.49 L634.38,436.10 L636.11,437.70 L637.86,439.29 L639.61,440.86 L641.38,442.42 L643.16,443.96 L644.95,445.49 L646.76,447.00 L648.57,448.50 L650.40,449.98 L652.24,451.45 L654.09,452.90 L655.95,454.33 L657.82,455.75 L659.70,457.15 L661.59,458.54 L663.49,459.91 L665.40,461.27 L667.33,462.61 L669.26,463.94 L671.20,465.25 L673.15,466.55 L675.11,467.83 L677.08,469.10 L679.06,470.35 L681.05,471.59 L683.05,472.81 L685.06,474.02 L687.07,475.22 L689.10,476.40 L691.13,477.57 L693.17,478.72 L695.22,479.86 L697.28,480.99 L699.34,482.10 L701.42,483.20 L703.50,484.29 L705.59,485.36 L707.69,486.42 L709.79,487.46 L711.90,488.50 L714.02,489.52 L716.15,490.53 L718.28,491.52 L720.42,492.51 L722.57,493.48 L724.72,494.44 L726.88,495.39 L729.05,496.32 L731.22,497.24 L733.40,498.15 L735.58,499.05 L737.78,499.94 L739.97,500.82 L742.17,501.68 L744.38,502.54 L746.59,503.38 L748.81,504.21 L751.04,505.03 L753.26,505.84 L755.50,506.64 L757.74,507.43 L759.98,508.21 L762.23,508.97 L764.48,509.73 L766.74,510.48 L769.00,511.21 L771.26,511.94 L773.53,512.66 L775.80,513.36 L778.08,514.06 L780.36,514.75 L782.64,515.43 L784.93,516.10 L787.22,516.76 L789.51,517.41 L791.80,518.05 L794.10,518.68 L796.40,519.30 L798.71,519.92 L801.02,520.53 L803.32,521.12 L805.64,521.71 L807.95,522.30 L810.26,522.87 L812.58,523.43 L814.90,523.99 L817.22,524.54 L819.54,525.08 L821.87,525.62 L824.19,526.14 L826.52,526.66 L828.84,527.17 L831.17,527.68 L833.50,528.18 L835.83,528.67 L838.16,529.15 L840.49,529.63 L842.82,530.10 L845.15,530.56 L847.48,531.02 L849.81,531.47 L852.14,531.91 L854.47,532.35 L856.80,532.78 L859.13,533.21 L861.46,533.63 L863.79,534.04 L866.12,534.45 L868.44,534.86 L870.77,535.25 L873.09,535.65 L875.41,536.03 L877.74,536.42 L880.05,536.79 L882.37,537.17 L884.69,537.54 L887.00,537.90 L889.31,538.26 L891.62,538.61 L893.93,538.96 L896.23,539.31 L898.53,539.65 L900.83,539.99 L903.13,540.32 L905.42,540.65 L907.71,540.98 L910.00,541.30 L912.28,541.43 L914.56,541.57 L916.84,541.72 L919.11,541.89 L921.39,542.07 L923.66,542.27 L925.93,542.47 L928.20,542.68 L930.47,542.90 L932.74,543.13 L935.01,543.37 L937.28,543.61 L939.55,543.85 L941.82,544.10 L944.09,544.35 L946.35,544.60 L948.62,544.85 L950.89,545.10 L953.16,545.34 L955.42,545.59 L957.69,545.83 L959.96,546.06 L962.23,546.29 L964.50,546.51 L966.77,546.72 L969.04,546.92 L971.32,547.11 L973.59,547.29 L975.87,547.46 L978.14,547.61 L980.42,547.75 L982.70,547.88 L984.98,547.98 L987.26,548.07 L989.55,548.14 L991.83,548.19 L994.12,548.21 L996.41,548.22 L998.70,548.20" fill="none" stroke="#5cb946" stroke-width="2.0" stroke-linejoin="miter" stroke-linecap="butt"/>
<path d="M107.40,571.00 L107.92,567.95 L108.44,564.90 L108.97,561.85 L109.50,558.80 L110.04,555.75 L110.58,552.70 L111.12,549.65 L111.68,546.60 L112.23,543.55 L112.80,540.51 L113.37,537.47 L113.95,534.42 L114.53,531.38 L115.13,528.35 L115.73,525.31 L116.35,522.28 L116.97,519.25 L117.60,516.22 L118.25,513.19 L118.90,510.17 L119.57,507.15 L120.24,504.14 L120.93,501.12 L121.64,498.12 L122.35,495.11 L123.08,492.11 L123.83,489.12 L124.58,486.12 L125.36,483.14 L126.15,480.16 L126.95,477.18 L127.77,474.21 L128.61,471.24 L129.46,468.28 L130.34,465.32 L131.23,462.37 L132.14,459.43 L133.06,456.49 L134.01,453.56 L134.98,450.64 L135.97,447.72 L136.97,444.81 L138.00,441.91 L139.05,439.01 L140.13,436.12 L141.22,433.24 L142.34,430.37 L143.48,427.50 L144.65,424.64 L145.84,421.80 L147.05,418.96 L148.29,416.12 L149.56,413.30 L150.85,410.49 L152.16,407.68 L153.51,404.89 L154.88,402.10 L156.28,399.32 L157.71,396.56 L159.16,393.80 L160.65,391.05 L162.16,388.32 L163.71,385.59 L165.28,382.88 L166.89,380.18 L168.53,377.50 L170.20,374.84 L171.91,372.21 L173.65,369.60 L175.42,367.01 L177.23,364.46 L179.08,361.94 L180.96,359.45 L182.88,357.00 L184.84,354.59 L186.83,352.22 L188.87,349.90 L190.95,347.63 L193.07,345.40 L195.22,343.23 L197.43,341.11 L199.67,339.05 L201.96,337.05 L204.30,335.11 L206.67,333.23 L209.10,331.42 L211.57,329.68 L214.09,328.02 L216.66,326.42 L219.27,324.91 L221.93,323.47 L224.65,322.12 L227.41,320.84 L230.21,319.63 L233.05,318.49 L235.92,317.41 L238.83,316.39 L241.76,315.42 L244.72,314.50 L247.69,313.63 L250.68,312.79 L253.69,311.99 L256.70,311.21 L259.71,310.47 L262.74,309.75 L265.77,309.05 L268.81,308.39 L271.85,307.75 L274.90,307.13 L277.95,306.53 L281.01,305.96 L284.08,305.41 L287.15,304.89 L290.22,304.38 L293.30,303.89 L296.38,303.43 L299.46,302.98 L302.54,302.55 L305.63,302.13 L308.72,301.74 L311.82,301.36 L314.91,300.99 L318.01,300.64 L321.10,300.30 L324.20,299.98 L327.30,299.67 L330.39,299.37 L333.49,299.08 L336.59,298.80 L339.68,298.53 L342.78,298.26 L345.87,298.01 L348.96,297.77 L352.05,297.53 L355.14,297.30 L358.23,297.08 L361.32,296.87 L364.41,296.67 L367.49,296.47 L370.58,296.28 L373.66,296.10 L376.75,295.93 L379.83,295.76 L382.91,295.60 L385.99,295.45 L389.07,295.30 L392.15,295.16 L395.23,295.03 L398.31,294.90 L401.39,294.78 L404.47,294.67 L407.55,294.56 L410.63,294.46 L413.71,294.36 L416.78,294.27 L419.86,294.18 L422.94,294.10 L426.02,294.03 L429.10,293.96 L432.17,293.89 L435.25,293.83 L438.33,293.78 L441.41,293.73 L444.49,293.68 L447.57,293.64 L450.65,293.60 L453.73,293.57 L456.81,293.54 L459.89,293.51 L462.97,293.49 L466.05,293.47 L469.14,293.46 L472.22,293.45 L475.30,293.44 L478.39,293.43 L481.47,293.43 L484.56,293.43 L487.65,293.44 L490.74,293.44 L493.83,293.45 L496.92,293.46 L500.01,293.47 L503.10,293.49 L506.20,293.50 L509.30,293.52 L512.39,293.54 L515.49,293.56 L518.59,293.59 L521.69,293.61 L524.80,293.64 L527.90,293.66 L531.01,293.69 L534.11,293.72 L537.22,293.75 L540.34,293.78 L543.45,293.81 L546.56,293.84 L549.68,293.87 L552.80,293.90 L553.67,296.05 L554.51,298.21 L555.34,300.38 L556.15,302.57 L556.94,304.77 L557.71,306.98 L558.48,309.20 L559.23,311.44 L559.97,313.68 L560.70,315.92 L561.43,318.18 L562.15,320.44 L562.86,322.70 L563.58,324.97 L564.29,327.23 L565.00,329.50 L565.72,331.77 L566.44,334.04 L567.16,336.31 L567.90,338.57 L568.64,340.83 L569.39,343.08 L570.15,345.33 L570.93,347.57 L571.72,349.80 L572.52,352.03 L573.35,354.24 L574.19,356.44 L575.06,358.63 L575.94,360.80 L576.86,362.97 L577.79,365.11 L578.76,367.24 L579.75,369.35 L580.78,371.45 L581.83,373.52 L582.92,375.58 L584.03,377.61 L585.18,379.63 L586.35,381.63 L587.55,383.62 L588.78,385.58 L590.04,387.53 L591.32,389.46 L592.63,391.38 L593.96,393.28 L595.32,395.16 L596.70,397.03 L598.10,398.88 L599.53,400.71 L600.98,402.54 L602.45,404.34 L603.95,406.13 L605.46,407.91 L606.99,409.68 L608.55,411.43 L610.12,413.16 L611.71,414.89 L613.31,416.60 L614.94,418.30 L616.58,419.99 L618.23,421.66 L619.91,423.32 L621.59,424.98 L623.28,426.62 L624.99,428.26 L626.70,429.89 L628.42,431.51 L630.15,433.13 L631.89,434.74 L633.63,436.35 L635.37,437.95 L637.13,439.54 L638.89,441.12 L640.66,442.70 L642.43,444.26 L644.22,445.81 L646.01,447.35 L647.82,448.87 L649.63,450.39 L651.45,451.88 L653.28,453.37 L655.13,454.83 L656.98,456.28 L658.84,457.71 L660.71,459.13 L662.60,460.53 L664.49,461.91 L666.40,463.28 L668.31,464.63 L670.23,465.97 L672.16,467.29 L674.11,468.59 L676.06,469.88 L678.02,471.15 L679.99,472.41 L681.97,473.65 L683.96,474.88 L685.95,476.09 L687.96,477.29 L689.97,478.48 L691.99,479.64 L694.02,480.80 L696.06,481.94 L698.11,483.06 L700.16,484.17 L702.23,485.27 L704.30,486.36 L706.37,487.42 L708.46,488.48 L710.55,489.52 L712.65,490.55 L714.76,491.57 L716.87,492.57 L718.99,493.56 L721.12,494.54 L723.25,495.50 L725.40,496.45 L727.54,497.39 L729.70,498.32 L731.86,499.23 L734.02,500.13 L736.20,501.02 L738.37,501.90 L740.56,502.76 L742.75,503.62 L744.94,504.46 L747.14,505.29 L749.35,506.11 L751.56,506.92 L753.77,507.71 L756.00,508.50 L758.22,509.27 L760.45,510.04 L762.69,510.79 L764.93,511.53 L767.17,512.27 L769.42,512.99 L771.67,513.70 L773.93,514.40 L776.19,515.09 L778.45,515.78 L780.72,516.45 L782.99,517.11 L785.26,517.76 L787.54,518.41 L789.82,519.04 L792.11,519.67 L794.39,520.28 L796.68,520.89 L798.98,521.49 L801.27,522.08 L803.57,522.66 L805.87,523.23 L808.17,523.80 L810.48,524.35 L812.79,524.90 L815.09,525.44 L817.41,525.97 L819.72,526.50 L822.03,527.02 L824.35,527.53 L826.66,528.03 L828.98,528.52 L831.30,529.01 L833.62,529.49 L835.94,529.97 L838.26,530.43 L840.59,530.89 L842.91,531.35 L845.23,531.79 L847.56,532.24 L849.88,532.67 L852.21,533.10 L854.53,533.52 L856.85,533.94 L859.18,534.35 L861.50,534.76 L863.82,535.16 L866.15,535.55 L868.47,535.94 L870.79,536.33 L873.11,536.71 L875.43,537.08 L877.74,537.45 L880.06,537.82 L882.37,538.18 L884.69,538.54 L887.00,538.89 L889.31,539.24 L891.62,539.58 L893.92,539.92 L896.23,540.26 L898.53,540.59 L900.83,540.92 L903.12,541.24 L905.42,541.57 L907.71,541.88 L910.00,542.20 L912.28,542.31 L914.56,542.44 L916.84,542.58 L919.11,542.74 L921.39,542.91 L923.66,543.10 L925.94,543.29 L928.21,543.50 L930.48,543.72 L932.75,543.94 L935.02,544.17 L937.29,544.41 L939.56,544.65 L941.82,544.90 L944.09,545.15 L946.36,545.40 L948.63,545.65 L950.89,545.90 L953.16,546.15 L955.43,546.39 L957.70,546.63 L959.97,546.87 L962.23,547.10 L964.50,547.32 L966.77,547.53 L969.05,547.74 L971.32,547.93 L973.59,548.11 L975.87,548.28 L978.14,548.44 L980.42,548.57 L982.70,548.70 L984.98,548.80 L987.26,548.89 L989.54,548.95 L991.83,549.00 L994.12,549.02 L996.41,549.02 L998.70,549.00" fill="none" stroke="#0e8a3e" stroke-width="2.0" stroke-linejoin="miter" stroke-linecap="butt"/>
</svg>
</body></html>
